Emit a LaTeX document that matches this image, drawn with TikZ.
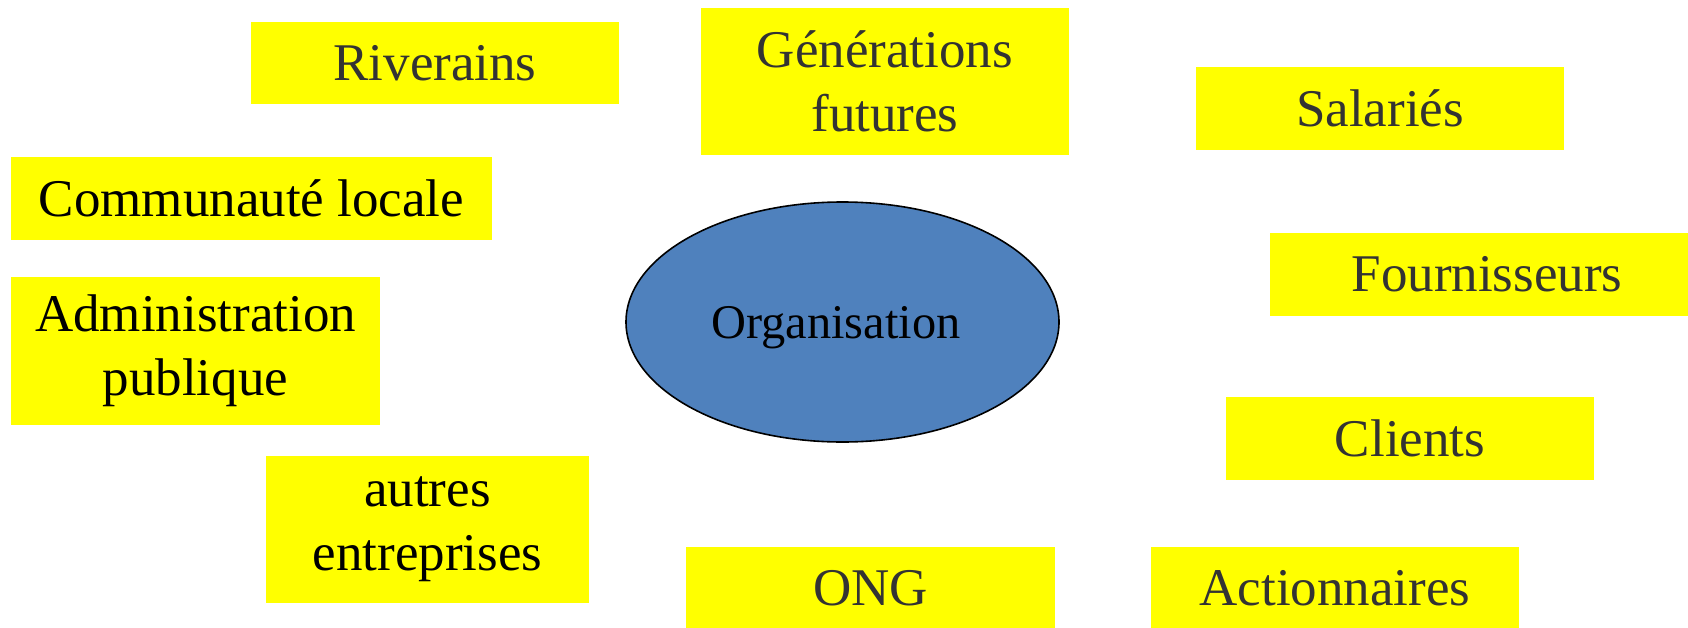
\documentclass[tikz,border=0pt]{standalone}
\usepackage{fontspec}
\setmainfont{Liberation Serif}
\usepackage{tikz}
\usetikzlibrary{shapes.geometric}

\definecolor{boxyellow}{RGB}{255,255,0}
\definecolor{orgblue}{RGB}{79,129,189}
\definecolor{darktext}{RGB}{51,51,51}

\begin{document}
\begin{tikzpicture}[x=0.5pt,y=-0.5pt,
    partie/.style={fill=boxyellow,inner sep=0pt,align=center,
        font=\fontsize{26.5}{32}\selectfont},
    organisme/.style={ellipse,draw=black,thick,fill=orgblue,inner sep=0pt}]
    \useasboundingbox (0,0) rectangle (1688,627);
    \node[organisme,minimum width=216.5pt,minimum height=120pt,
        label={[font=\fontsize{24.2}{29}\selectfont,xshift=-3.25pt,yshift=-3pt]center:Organisation}] (organisation) at (842.5,322) {};
    \node[partie,text=darktext,minimum width=184pt,minimum height=41pt] (riverains) at (435,63) {Riverains};
    \node[partie,text=darktext,minimum width=184pt,minimum height=73.5pt] (generations) at (885,81) {Générations\\futures};
    \node[partie,text=darktext,minimum width=184pt,minimum height=41.5pt] (salaries) at (1380,108.5) {Salariés};
    \node[partie,text=black,minimum width=240.5pt,minimum height=41.5pt] (communaute) at (251.5,198.5) {Communauté locale};
    \node[partie,text=black,minimum width=184.5pt,minimum height=74pt] (administration) at (195.5,351) {Administration\\publique};
    \node[partie,text=darktext,minimum width=217pt,minimum height=41.5pt] (fournisseurs) at (1487,274) {Fournisseurs};
    \node[partie,text=darktext,minimum width=184pt,minimum height=41.5pt] (clients) at (1410,438.5) {Clients};
    \node[partie,text=black,minimum width=161.5pt,minimum height=73.5pt] (autres) at (427.5,529.5) {autres\\entreprises};
    \node[partie,text=darktext,minimum width=184.5pt,minimum height=41.5pt] (ong) at (870.5,588.5) {ONG};
    \node[partie,text=darktext,minimum width=184pt,minimum height=41.5pt] (actionnaires) at (1335,588.5) {Actionnaires};
\end{tikzpicture}
\end{document}
